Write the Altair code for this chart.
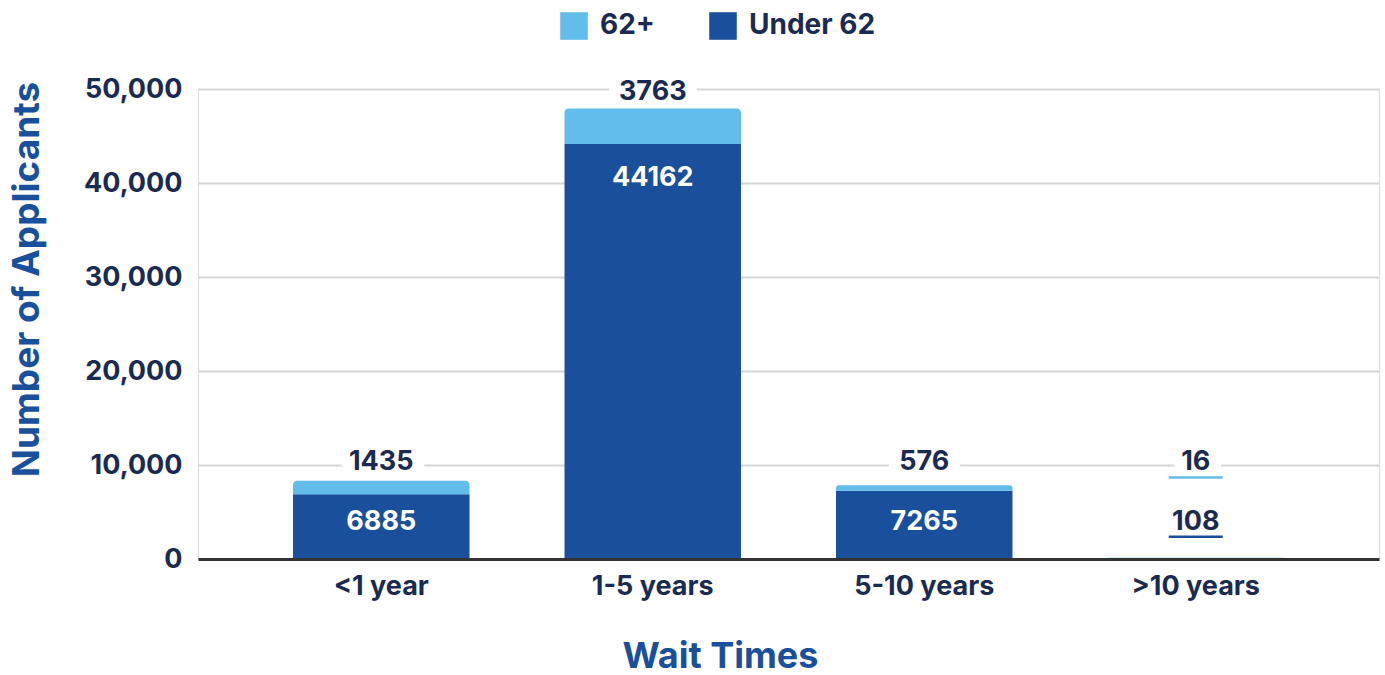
import altair as alt
import pandas as pd

categories = ["<1 year", "1-5 years", "5-10 years", ">10 years"]
under_62 = [6885, 44162, 7265, 108]
over_62 = [1435, 3763, 576, 16]

DARK = "#1a4f9c"
LIGHT = "#62bdea"
NAVY = "#1b2a50"
FONT = "Inter"

df = pd.DataFrame({"cat": categories, "under": under_62, "over": over_62})
df["total"] = df["under"] + df["over"]

x_enc = alt.X("cat:N", sort=categories,
              scale=alt.Scale(paddingInner=0.35, paddingOuter=0.35),
              axis=alt.Axis(title="Wait Times", labelAngle=0, labelFont=FONT,
                            labelFontSize=27, labelFontWeight="bold", labelColor=NAVY,
                            labelPadding=14, ticks=False, tickSize=0,
                            labelAlign="center", labelBaseline="top",
                            domainColor="#333333", domainWidth=3, zindex=1,
                            titleFont=FONT, titleFontSize=36, titleFontWeight="bold",
                            titleColor=DARK, titleX=522, titleY=97,
                            titleBaseline="middle", titleAlign="center"))

y_scale = alt.Scale(domain=[0, 50000], nice=False)
y_axis = alt.Axis(title="Number of Applicants", values=[0, 10000, 20000, 30000, 40000, 50000],
                  format=",d", labelFont=FONT, labelFontSize=27, labelFontWeight="bold",
                  labelColor=NAVY, labelPadding=16, ticks=False, tickSize=0, domain=False,
                  gridColor="#d6d6d6", gridWidth=2,
                  titleFont=FONT, titleFontSize=37, titleFontWeight="bold", titleColor=DARK,
                  titleAngle=270, titleX=-171, titleY=190, titleBaseline="middle",
                  titleAlign="center")

def yq(field):
    return alt.Y(field, type="quantitative", scale=y_scale, axis=y_axis)

color_scale = alt.Scale(domain=["62+", "Under 62"], range=[LIGHT, DARK])
legend = alt.Legend(title=None, orient="none", direction="horizontal",
                    legendX=362, legendY=-77, symbolType="square", symbolSize=760,
                    symbolStrokeWidth=0, symbolOpacity=1, labelFont=FONT, labelFontSize=28,
                    labelFontWeight="bold", labelColor=NAVY, labelOffset=12,
                    columnPadding=54)

base = alt.Chart(df)

outer = base.transform_calculate(oy="max(datum.total + 1800, 10370)")
outer_halo = outer.mark_text(font=FONT, fontSize=27, fontWeight="bold", baseline="middle",
                             color="white", stroke="white", strokeWidth=24,
                             strokeJoin="round").encode(
    x=x_enc,
    y=yq("oy"),
    text=alt.Text("over:Q", format="d"),
)

bar_under = base.transform_calculate(series="'Under 62'").mark_bar().encode(
    x=x_enc,
    y=yq("under"),
    color=alt.Color("series:N", scale=color_scale, legend=legend),
)

bar_over = base.transform_calculate(series="'62+'").mark_bar(
    cornerRadiusTopLeft=4, cornerRadiusTopRight=4).encode(
    x=x_enc,
    y=yq("under"),
    y2="total:Q",
    color=alt.Color("series:N", scale=color_scale, legend=legend),
)

inner = base.transform_calculate(iy="max(datum.under - 3650, 3950)")
inner_text = inner.mark_text(font=FONT, fontSize=27, fontWeight="bold", baseline="middle").encode(
    x=x_enc,
    y=yq("iy"),
    text=alt.Text("under:Q", format="d"),
    color=alt.condition("datum.under > 5000", alt.value("white"), alt.value(NAVY)),
)
inner_tick = inner.transform_filter("datum.under < 1000").mark_tick(
    size=54, thickness=2.5, yOffset=15, color=DARK, opacity=1).encode(
    x=x_enc,
    y=yq("iy"),
)

outer_text = outer.mark_text(font=FONT, fontSize=27, fontWeight="bold", baseline="middle",
                             color=NAVY).encode(
    x=x_enc,
    y=yq("oy"),
    text=alt.Text("over:Q", format="d"),
)
outer_tick = outer.transform_filter("datum.total < 1000").mark_tick(
    size=54, thickness=2.5, yOffset=16, color=LIGHT, opacity=1).encode(
    x=x_enc,
    y=yq("oy"),
)

chart = alt.layer(outer_halo, bar_under, bar_over, inner_text, inner_tick, outer_text,
                  outer_tick).properties(
    width=1181, height=470,
    autosize=alt.AutoSizeParams(type="none"),
    padding={"left": 198, "top": 89, "right": 6, "bottom": 116},
).configure_view(stroke=None).configure(background="white")

chart.save("out.html", embed_options={"renderer": "svg", "actions": False})
